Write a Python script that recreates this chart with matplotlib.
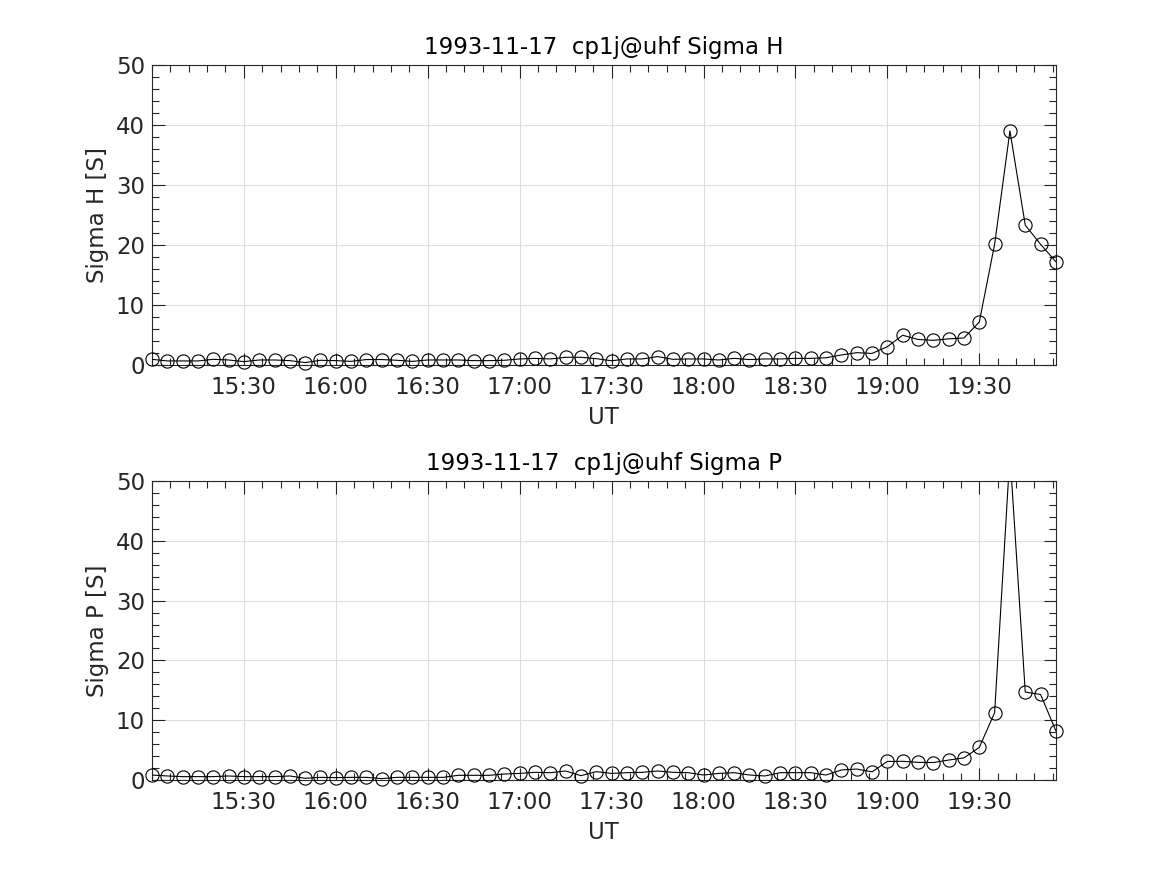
import numpy as np
import matplotlib
matplotlib.use("Agg")
import matplotlib.pyplot as plt
import matplotlib.dates as mdates
from matplotlib.ticker import MultipleLocator
from datetime import datetime, timedelta

date_str = "1993-11-17"
times = [datetime(1993, 11, 17, 15, 0) + timedelta(minutes=5 * i) for i in range(60)]

sigma_h = [0.94, 0.67, 0.67, 0.67, 0.94, 0.83, 0.56, 0.83, 0.83, 0.72,
           0.40, 0.78, 0.72, 0.60, 0.90, 0.90, 0.78, 0.60, 0.83, 0.83,
           0.83, 0.72, 0.72, 0.78, 1.00, 1.10, 1.00, 1.28, 1.28, 1.05,
           0.70, 1.00, 1.00, 1.40, 0.94, 1.00, 1.00, 0.83, 1.10, 0.90,
           1.00, 1.00, 1.10, 1.10, 1.20, 1.67, 2.05, 1.92, 3.05, 4.95,
           4.25, 4.10, 4.35, 4.50, 7.15, 20.1, 39.0, 23.3, 20.1, 17.2]

sigma_p = [0.83, 0.67, 0.56, 0.56, 0.56, 0.67, 0.56, 0.56, 0.56, 0.67,
           0.28, 0.44, 0.39, 0.44, 0.44, 0.22, 0.44, 0.44, 0.44, 0.44,
           0.78, 0.78, 0.78, 1.00, 1.10, 1.28, 1.22, 1.50, 0.72, 1.39,
           1.10, 1.22, 1.28, 1.50, 1.28, 1.22, 0.83, 1.10, 1.22, 0.83,
           0.67, 1.22, 1.22, 1.22, 0.83, 1.67, 1.83, 1.36, 3.10, 3.12,
           2.95, 2.92, 3.33, 3.70, 5.45, 11.25, 54.5, 14.7, 14.3, 8.2]

xtick_labels = ["15:30", "16:00", "16:30", "17:00", "17:30", "18:00", "18:30", "19:00", "19:30"]
xtick_times = [datetime.strptime(date_str + " " + s, "%Y-%m-%d %H:%M") for s in xtick_labels]

panels = [("Sigma H", sigma_h), ("Sigma P", sigma_p)]

fig = plt.figure(figsize=(11.67, 8.75), dpi=100)
positions = [[0.1302, 0.5829, 0.7746, 0.3429], [0.1302, 0.1086, 0.7746, 0.3417]]
txtcol = "#262626"
ymax = 50
fs = 16.5

for pos, (name, vals) in zip(positions, panels):
    ax = fig.add_axes(pos)
    vals = np.array(vals)
    ax.plot(times, vals, color="black", linewidth=0.8, zorder=3)
    mask = vals <= ymax
    ax.plot(np.array(times)[mask], vals[mask], linestyle="none", marker="o",
            markersize=9.5, markerfacecolor="none", markeredgecolor="black",
            markeredgewidth=0.8, clip_on=False, zorder=4)
    ax.set_xlim(times[0], times[-1])
    ax.set_ylim(0, ymax)
    ax.set_xticks(xtick_times)
    ax.set_xticklabels(xtick_labels)
    ax.xaxis.set_minor_locator(mdates.MinuteLocator(byminute=range(0, 60, 6)))
    ax.yaxis.set_major_locator(MultipleLocator(10))
    ax.yaxis.set_minor_locator(MultipleLocator(2))
    ax.tick_params(which="both", direction="in", top=True, right=True,
                   colors=txtcol, labelsize=fs, width=0.8)
    ax.tick_params(which="major", length=9)
    ax.tick_params(which="minor", length=5)
    ax.tick_params(axis="x", which="major", pad=8)
    ax.tick_params(axis="y", which="major", pad=5)
    ax.grid(True, which="major", color="#dedede", linewidth=0.8)
    ax.set_axisbelow(True)
    for sp in ax.spines.values():
        sp.set_color(txtcol)
        sp.set_linewidth(0.8)
    ax.set_ylabel(name + " [S]", fontsize=fs, color=txtcol, labelpad=5)
    ax.set_xlabel("UT", fontsize=fs, color=txtcol, labelpad=5)
    ax.set_title(date_str + "  cp1j@uhf " + name, fontsize=fs, color="black", pad=8)

fig.savefig("out.png", dpi=100)
